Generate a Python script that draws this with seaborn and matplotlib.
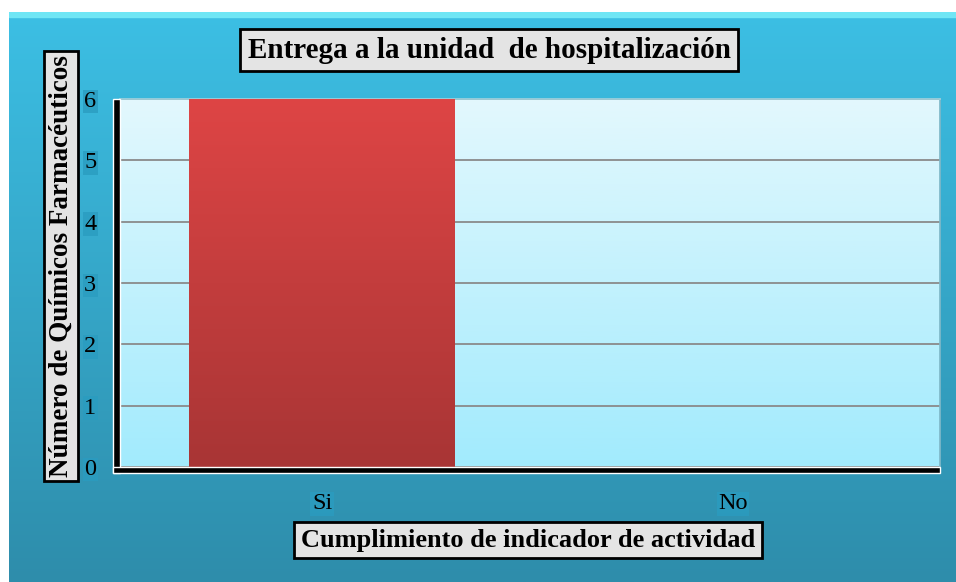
import numpy as np
import matplotlib
matplotlib.use("Agg")
import matplotlib.pyplot as plt
import seaborn as sns
import pandas as pd
from matplotlib.patches import Rectangle
from matplotlib.colors import LinearSegmentedColormap

categories = ["Si", "No"]
values = [6, 0]
yticks = [0, 1, 2, 3, 4, 5, 6]
title = "Entrega a la unidad  de hospitalización"
xlabel = "Cumplimiento de indicador de actividad"
ylabel = "Número de Químicos Farmacéuticos"

sns.set_theme(style="white")
plt.rcParams['font.family'] = ['Liberation Serif', 'DejaVu Serif']
plt.rcParams['text.color'] = 'black'

W, H = 956, 582
fig = plt.figure(figsize=(W / 100, H / 100), dpi=100)
fig.patch.set_facecolor("white")

def fx(x):
    return x / W

def fy(y):
    return 1 - y / H

# blue panel background with vertical gradient
bg = fig.add_axes([fx(9), 0, 1 - fx(9), fy(12)])
bg.set_axis_off()
bg.set_zorder(-10)
panel_cmap = LinearSegmentedColormap.from_list("p", ["#3cbfe4", "#2e8dab"])
bg.imshow(np.linspace(0, 1, 256).reshape(-1, 1), aspect="auto", cmap=panel_cmap,
          extent=[0, 1, 0, 1], origin="upper")
bg.axhspan(0.992, 1.0, color="#6fe6f5")
bg.set_xlim(0, 1)
bg.set_ylim(0, 1)

ax = fig.add_axes([fx(120), fy(467), fx(940) - fx(120), fy(99) - fy(467)])
df = pd.DataFrame({"cat": categories, "val": values})
sns.barplot(data=df, x="cat", y="val", ax=ax, width=0.645, color="#d04040",
            edgecolor="none", zorder=3)
XL = (-0.4915, 1.5036)
ax.set_xlim(*XL)
ax.set_ylim(0, 6)

# plot area gradient
plot_cmap = LinearSegmentedColormap.from_list("q", ["#e3f8fd", "#a2ebfd"])
ax.imshow(np.linspace(0, 1, 256).reshape(-1, 1), aspect="auto", cmap=plot_cmap,
          extent=[XL[0], XL[1], 0, 6], origin="upper", zorder=0)

# bar gradient
bar_cmap = LinearSegmentedColormap.from_list("r", ["#de4545", "#a83535"])
for p in ax.patches:
    x0, y0 = p.get_x(), p.get_y()
    w, h = p.get_width(), p.get_height()
    if h <= 0:
        continue
    im = ax.imshow(np.linspace(0, 1, 256).reshape(-1, 1), aspect="auto", cmap=bar_cmap,
                   extent=[x0, x0 + w, y0, y0 + h], origin="upper", zorder=3.5)
    im.set_clip_path(p)
ax.set_xlim(*XL)
ax.set_ylim(0, 6)

ax.set_yticks(yticks)
ax.grid(axis="y", color="#8a8a8a", linewidth=1.3, zorder=1)
ax.set_axisbelow(True)
for s in ax.spines.values():
    s.set_visible(False)
ax.spines["right"].set_visible(True)
ax.spines["right"].set_color("#7fb8c8")
ax.spines["top"].set_visible(True)
ax.spines["top"].set_color("#9fd0dc")
ax.tick_params(axis="both", length=0, labelsize=17.5, colors="black")
ax.tick_params(axis="y", pad=17)
ax.tick_params(axis="x", pad=19)
ax.set_xlabel("")
ax.set_ylabel("")
for t in ax.get_yticklabels() + ax.get_xticklabels():
    t.set_bbox(dict(facecolor="#2a9cc0", edgecolor="none", pad=1.0, alpha=0.8))

# black wall and floor
fig.patches.append(Rectangle((fx(113), fy(473)), fx(120) - fx(113), fy(99) - fy(473),
                             transform=fig.transFigure, facecolor="black", zorder=5))
fig.patches.append(Rectangle((fx(113), fy(473)), fx(940) - fx(113), fy(467) - fy(473),
                             transform=fig.transFigure, facecolor="black", zorder=5))

box = dict(boxstyle="square,pad=0.25", facecolor="#e4e4e4", edgecolor="black", linewidth=2)
fig.text(fx(489), fy(50), title, ha="center", va="center", fontsize=21,
         fontweight="bold", color="black", bbox=box)
fig.text(fx(528), fy(540), xlabel, ha="center", va="center", fontsize=19,
         fontweight="bold", color="black", bbox=box)
fig.text(fx(61), fy(266), ylabel, ha="center", va="center", fontsize=19.5,
         fontweight="bold", color="black", rotation=90,
         bbox=dict(boxstyle="square,pad=0.15", facecolor="#e4e4e4", edgecolor="black", linewidth=2))

fig.savefig("out.png", dpi=100)
